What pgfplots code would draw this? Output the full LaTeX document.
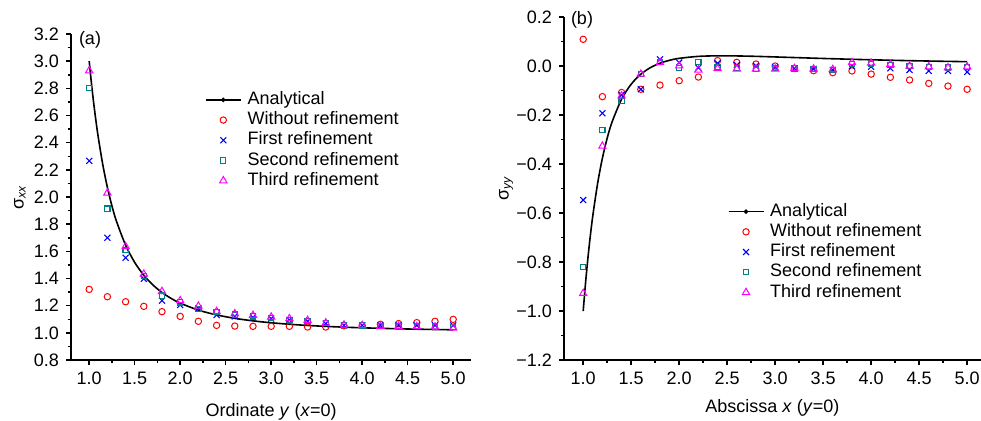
\documentclass[border=0pt]{standalone}
\usepackage{fontspec}
\setmainfont{Liberation Sans}
\usepackage{pgfplots}
\pgfplotsset{compat=1.18}
\usepackage{pgfplotstable}
\definecolor{tealc}{RGB}{0,128,128}
\definecolor{magc}{RGB}{255,0,255}

% panel (a): sigma_xx along x=0
\pgfplotstableread{
x wo first second third
1.0 1.320 2.266 2.800 2.930
1.2 1.266 1.700 1.915 2.030
1.4 1.229 1.553 1.612 1.636
1.6 1.195 1.398 1.420 1.433
1.8 1.156 1.237 1.274 1.305
2.0 1.121 1.205 1.224 1.237
2.2 1.085 1.180 1.176 1.197
2.4 1.055 1.131 1.151 1.158
2.6 1.050 1.121 1.134 1.141
2.8 1.048 1.114 1.121 1.129
3.0 1.048 1.105 1.110 1.117
3.2 1.048 1.095 1.097 1.105
3.4 1.043 1.085 1.087 1.092
3.6 1.043 1.068 1.070 1.073
3.8 1.053 1.055 1.056 1.058
4.0 1.055 1.055 1.055 1.055
4.2 1.063 1.055 1.052 1.048
4.4 1.068 1.055 1.050 1.048
4.6 1.075 1.055 1.048 1.046
4.8 1.085 1.055 1.047 1.044
5.0 1.099 1.055 1.045 1.036
}\dataA

\pgfplotstableread{
x y
1.0 3.0000
1.025 2.8348
1.05 2.6876
1.075 2.5559
1.1 2.4377
1.15 2.2357
1.2 2.0706
1.25 1.9344
1.3 1.8210
1.4 1.6456
1.5 1.5185
1.6 1.4242
1.7 1.3526
1.8 1.2972
1.9 1.2536
2.0 1.2188
2.2 1.1673
2.4 1.1320
2.6 1.1068
2.8 1.0882
3.0 1.0741
3.25 1.0608
3.5 1.0508
3.75 1.0431
4.0 1.0371
4.5 1.0283
5.0 1.0224
}\anaA

% panel (b): sigma_yy along y=0
\pgfplotstableread{
x wo first second third
1.0 0.109 -0.547 -0.820 -0.928
1.2 -0.125 -0.193 -0.261 -0.327
1.4 -0.108 -0.118 -0.143 -0.122
1.6 -0.095 -0.095 -0.033 -0.033
1.8 -0.078 0.027 0.017 0.014
2.0 -0.060 0.014 -0.007 0.001
2.2 -0.045 -0.007 0.015 -0.016
2.4 0.022 0.011 -0.005 -0.010
2.6 0.015 0.004 -0.007 -0.012
2.8 0.008 0.000 -0.010 -0.012
3.0 0.000 -0.005 -0.009 -0.012
3.2 -0.010 -0.010 -0.010 -0.010
3.4 -0.019 -0.012 -0.012 -0.012
3.6 -0.027 -0.016 -0.015 -0.014
3.8 -0.020 0.000 0.007 0.014
4.0 -0.033 -0.003 0.008 0.012
4.2 -0.046 -0.009 0.003 0.007
4.4 -0.057 -0.016 0.000 0.000
4.6 -0.071 -0.020 -0.004 -0.003
4.8 -0.082 -0.020 -0.006 -0.007
5.0 -0.095 -0.024 -0.005 -0.003
}\dataB

\pgfplotstableread{
x y
1.0 -1.0000
1.025 -0.8830
1.05 -0.7805
1.075 -0.6905
1.1 -0.6113
1.15 -0.4796
1.2 -0.3762
1.25 -0.2944
1.3 -0.2293
1.4 -0.1354
1.5 -0.0741
1.6 -0.0336
1.7 -0.0066
1.8 0.0114
1.9 0.0234
2.0 0.0313
2.2 0.0393
2.4 0.0416
2.6 0.0411
2.8 0.0394
3.0 0.0370
3.25 0.0339
3.5 0.0308
3.75 0.0280
4.0 0.0254
4.5 0.0210
5.0 0.0176
}\anaB

\newcommand{\nf}{\fontsize{9}{10}\selectfont}

\pgfplotsset{
  mystyle/.style={
    scale only axis,
    axis lines=left,
    axis line style={-, line width=0.85pt},
    tick align=outside,
    major tick length=2.5pt,
    minor tick length=1.5pt,
    every tick/.style={black, line width=0.75pt},
    minor x tick num=1, minor y tick num=1,
    tick label style={font=\nf},
    label style={font=\nf},
    legend cell align=left,
    legend style={draw=none, fill=none, font=\nf, inner sep=0pt, outer sep=0pt,
      anchor=north west, row sep=0pt, /tikz/column sep=2.1pt,
      nodes={inner sep=0.85pt, text height=6.5pt, text depth=1.9pt}},
  },
  markleg/.style={legend image code/.code={\path (0pt,0pt) (17.5pt,0pt); \draw[##1] plot coordinates {(8.75pt,0pt)};}},
  lineleg/.style={legend image code/.code={\draw[##1] (0pt,0pt)--(17.5pt,0pt); \fill (8.75pt,0pt) circle (0.7pt);}},
  ana/.style={black, line width=0.8pt, smooth, no marks, lineleg},
  swo/.style={only marks, mark=o, mark size=1.6pt, red, mark options={line width=0.5pt}, markleg},
  sfirst/.style={only marks, mark=x, mark size=2.1pt, blue, mark options={line width=0.55pt}, markleg},
  ssecond/.style={only marks, mark=square, mark size=1.3pt, tealc, mark options={line width=0.55pt}, markleg},
  sthird/.style={only marks, mark=triangle, mark size=2.1pt, magc, mark options={line width=0.5pt}, markleg},
}

\begin{document}
\begin{tikzpicture}
\useasboundingbox (0pt,0pt) rectangle (490.5pt,210pt);

\begin{axis}[mystyle,
  at={(35.5pt,30pt)}, anchor=south west,
  width=200.2pt, height=163pt,
  xmin=0.8, xmax=5.2, ymin=0.8, ymax=3.2,
  xtick={1,1.5,2,2.5,3,3.5,4,4.5,5},
  xticklabels={1.0,1.5,2.0,2.5,3.0,3.5,4.0,4.5,5.0},
  ytick={0.8,1,1.2,1.4,1.6,1.8,2,2.2,2.4,2.6,2.8,3,3.2},
  yticklabels={0.8,1.0,1.2,1.4,1.6,1.8,2.0,2.2,2.4,2.6,2.8,3.0,3.2},
  xlabel={Ordinate \textit{y} (\textit{x}=0)},
  ylabel={σ\textsubscript{\textit{xx}}},
  xlabel style={at={(axis description cs:0.5,-0.1595)}, anchor=center},
  ylabel style={at={(axis description cs:-0.1274,0.5)}, anchor=center},
  legend style={at={(0.3347,0.829)}},
]
\addplot[ana] table[x=x,y=y] {\anaA};
\addlegendentry{Analytical}
\addplot[swo] table[x=x,y=wo] {\dataA};
\addlegendentry{Without refinement}
\addplot[sfirst] table[x=x,y=first] {\dataA};
\addlegendentry{First refinement}
\addplot[ssecond] table[x=x,y=second] {\dataA};
\addlegendentry{Second refinement}
\addplot[sthird] table[x=x,y=third] {\dataA};
\addlegendentry{Third refinement}
\end{axis}

\begin{axis}[mystyle,
  at={(282pt,30pt)}, anchor=south west,
  width=208.3pt, height=171.5pt,
  xmin=0.8, xmax=5.14, ymin=-1.2, ymax=0.2,
  xtick={1,1.5,2,2.5,3,3.5,4,4.5,5},
  xticklabels={1.0,1.5,2.0,2.5,3.0,3.5,4.0,4.5,5.0},
  ytick={-1.2,-1,-0.8,-0.6,-0.4,-0.2,0,0.2},
  yticklabels={−1.2,−1.0,−0.8,−0.6,−0.4,−0.2,0.0,0.2},
  xlabel={Abscissa \textit{x} (\textit{y}=0)},
  ylabel={σ\textsubscript{\textit{yy}}},
  xlabel style={at={(axis description cs:0.5,-0.14)}, anchor=center},
  ylabel style={at={(axis description cs:-0.139,0.5)}, anchor=center},
  legend style={at={(0.393,0.462)}},
]
\addplot[ana] table[x=x,y=y] {\anaB};
\addlegendentry{Analytical}
\addplot[swo] table[x=x,y=wo] {\dataB};
\addlegendentry{Without refinement}
\addplot[sfirst] table[x=x,y=first] {\dataB};
\addlegendentry{First refinement}
\addplot[ssecond] table[x=x,y=second] {\dataB};
\addlegendentry{Second refinement}
\addplot[sthird] table[x=x,y=third] {\dataB};
\addlegendentry{Third refinement}
\end{axis}

\node[font=\nf] at (45pt,190pt) {(a)};
\node[font=\nf] at (291pt,200pt) {(b)};
\end{tikzpicture}
\end{document}
